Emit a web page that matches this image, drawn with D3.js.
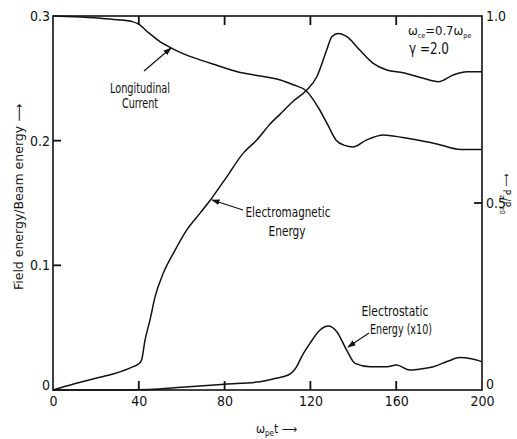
<!DOCTYPE html>
<html><head><meta charset="utf-8">
<script src="https://cdn.jsdelivr.net/npm/d3@7"></script>
<style>
body{margin:0;background:#fff;}
svg{display:block;}
text{fill:#111;}
.cond{font-family:"Liberation Sans Narrow","DejaVu Sans Condensed","Arial Narrow","Liberation Sans",sans-serif;}
</style>
</head><body>
<svg id="chart" width="517" height="439"></svg>
<script>
// ---- data ----
const xTicks = [0, 40, 80, 120, 160, 200];
const leftTicks = [0, 0.1, 0.2, 0.3];
const leftTickLabels = ["0", "0.1", "0.2", "0.3"];
const rightTicks = [0, 0.5, 1.0];
const rightTickLabels = ["0", "0.5", "1.0"];

// Longitudinal current (right axis, normalised)
const lcT = [0, 10, 22, 30, 37, 40, 44, 50, 55, 62, 70, 76, 86, 96, 106, 112, 118, 124, 128, 132, 136, 140, 146, 154, 163, 171, 179, 190, 200];
const lcV = [1.0, 0.998, 0.994, 0.99, 0.985, 0.978, 0.958, 0.931, 0.915, 0.896, 0.88, 0.869, 0.851, 0.84, 0.829, 0.816, 0.80, 0.752, 0.71, 0.668, 0.654, 0.65, 0.668, 0.682, 0.675, 0.667, 0.658, 0.643, 0.643];

// Electromagnetic energy (left axis)
const emT = [0, 10, 20, 28, 37.4, 40, 41.3, 42.9, 45.2, 47.6, 51.4, 56.1, 62.3, 68.5, 73.2, 81, 88.7, 95, 101, 106, 112, 118.3, 123, 127.6, 130, 133, 137, 143, 149.3, 155.6, 163.3, 172.6, 179.6, 186.6, 192.9, 200];
const emV = [0, 0.005, 0.0095, 0.0128, 0.0187, 0.021, 0.024, 0.040, 0.056, 0.0749, 0.0936, 0.1096, 0.1283, 0.1417, 0.152, 0.171, 0.19, 0.2005, 0.213, 0.2215, 0.2316, 0.2406, 0.2513, 0.2727, 0.2834, 0.286, 0.2834, 0.2727, 0.262, 0.2567, 0.2545, 0.25, 0.2473, 0.2527, 0.2553, 0.2553];

// Electrostatic energy x10 (left axis)
const esT = [0, 20, 45, 60, 80, 96.5, 104, 109.7, 113.6, 116, 119.8, 124.5, 128.3, 132.3, 136.9, 140.8, 147.8, 155, 160.2, 166.4, 172, 177.3, 184, 189.7, 195, 200];
const esV = [0, 0, 0.0005, 0.0022, 0.0047, 0.0067, 0.0095, 0.012, 0.0187, 0.027, 0.0374, 0.0481, 0.0513, 0.0468, 0.032, 0.0214, 0.0187, 0.0186, 0.02, 0.016, 0.017, 0.0187, 0.023, 0.026, 0.025, 0.0227];

// ---- layout ----
const svg = d3.select("#chart");
const L = 53, R = 482, T = 16, B = 390;
const x = d3.scaleLinear().domain([0, 200]).range([L, R]);
const yL = d3.scaleLinear().domain([0, 0.3]).range([B, T]);
const yR = d3.scaleLinear().domain([0, 1]).range([B, T]);

svg.append("defs").append("marker")
  .attr("id", "arr").attr("viewBox", "0 0 10 10").attr("refX", 9).attr("refY", 5)
  .attr("markerWidth", 7).attr("markerHeight", 7).attr("orient", "auto")
  .append("path").attr("d", "M0,1.5 L10,5 L0,8.5 Z").attr("fill", "#111");

// frame
svg.append("rect").attr("x", L).attr("y", T).attr("width", R - L).attr("height", B - T)
  .attr("fill", "none").attr("stroke", "#111").attr("stroke-width", 1.6);

// axis labels via d3 axes (tick marks drawn separately below)
const bx = svg.append("g").attr("transform", `translate(0,${B})`)
  .call(d3.axisBottom(x).tickValues(xTicks).tickSize(0).tickPadding(6));
const lx = svg.append("g").attr("transform", `translate(${L},0)`)
  .call(d3.axisLeft(yL).tickValues(leftTicks).tickSize(0).tickPadding(3)
    .tickFormat((d, i) => leftTickLabels[i]));
const rx = svg.append("g").attr("transform", `translate(${R},0)`)
  .call(d3.axisRight(yR).tickValues(rightTicks).tickSize(0).tickPadding(4)
    .tickFormat((d, i) => rightTickLabels[i]));
[bx, lx, rx].forEach(g => {
  g.select(".domain").remove();
  g.selectAll(".tick line").remove();
  g.selectAll(".tick text").attr("class", "cond").attr("font-size", 14).attr("fill", "#111");
});
lx.selectAll(".tick").filter(d => d === 0).select("text").attr("dy", "-0.05em");
rx.selectAll(".tick").filter(d => d === 0).select("text").attr("dy", "-0.1em");

// inward tick marks
const tl = 9;
const inner = xTicks.slice(1, -1);
const tk = svg.append("g");
function tick(x1, y1, x2, y2) {
  tk.append("line").attr("x1", x1).attr("y1", y1).attr("x2", x2).attr("y2", y2)
    .style("stroke", "#111").style("stroke-width", "1.8px");
}
inner.forEach(d => { tick(x(d), B, x(d), B - tl); tick(x(d), T, x(d), T + tl); });
leftTicks.slice(1, -1).forEach(d => tick(L, yL(d), L + tl - 1, yL(d)));
rightTicks.slice(1, -1).forEach(d => tick(R, yR(d), R - tl + 1, yR(d)));

// curves
const mk = (T_, V_, ys) => d3.line().x((d, i) => x(T_[i])).y((d, i) => ys(V_[i])).curve(d3.curveMonotoneX)(T_);
svg.append("path").attr("d", mk(lcT, lcV, yR)).attr("fill", "none").attr("stroke", "#111").attr("stroke-width", 1.5);
svg.append("path").attr("d", mk(emT, emV, yL)).attr("fill", "none").attr("stroke", "#111").attr("stroke-width", 1.5);
svg.append("path").attr("d", mk(esT, esV, yL)).attr("fill", "none").attr("stroke", "#111").attr("stroke-width", 1.5);

// annotations
function label(s, cx, y, w, size) {
  svg.append("text").attr("class", "cond").attr("x", cx).attr("y", y)
    .attr("text-anchor", "middle").attr("font-size", size)
    .attr("textLength", w).attr("lengthAdjust", "spacingAndGlyphs").text(s);
}
label("Longitudinal", 140, 93, 60, 14);
label("Current", 140, 108, 36, 14);
svg.append("line").attr("x1", 144).attr("y1", 71).attr("x2", 171).attr("y2", 48)
  .attr("stroke", "#111").attr("stroke-width", 1.2).attr("marker-end", "url(#arr)");

label("Electromagnetic", 288, 217, 85, 14);
label("Energy", 287, 236, 37, 14);
svg.append("line").attr("x1", 243).attr("y1", 210).attr("x2", 212).attr("y2", 200)
  .attr("stroke", "#111").attr("stroke-width", 1.2).attr("marker-end", "url(#arr)");

label("Electrostatic", 395, 316, 67, 14);
label("Energy (x10)", 401, 334, 62, 14);
svg.append("line").attr("x1", 369).attr("y1", 333).attr("x2", 348).attr("y2", 347)
  .attr("stroke", "#111").attr("stroke-width", 1.2).attr("marker-end", "url(#arr)");

// parameters
const p1 = svg.append("text").attr("class", "cond").attr("x", 408).attr("y", 35).attr("font-size", 13);
p1.append("tspan").text("ω");
p1.append("tspan").attr("font-size", 7).attr("dy", 3).text("ce");
p1.append("tspan").attr("dy", -3).text("=0.7ω");
p1.append("tspan").attr("font-size", 7).attr("dy", 3).text("pe");
svg.append("text").attr("class", "cond").attr("x", 409).attr("y", 54).attr("font-size", 15)
  .attr("textLength", 40).attr("lengthAdjust", "spacingAndGlyphs").text("γ =2.0");

// x-axis title
const xt = svg.append("text").attr("class", "cond").attr("x", 256).attr("y", 433).attr("font-size", 12);
xt.append("tspan").text("ω");
xt.append("tspan").attr("font-size", 8).attr("dy", 3).text("pe");
xt.append("tspan").attr("dy", -3).text("t ⟶");

// left y-axis title
svg.append("text").attr("transform", "translate(23,197) rotate(-90)").attr("text-anchor", "middle")
  .attr("font-family", "DejaVu Sans, sans-serif").attr("font-size", 12.5).text("Field energy/Beam energy ⟶");

// right y-axis title
const rt = svg.append("text").attr("transform", "translate(503,194) rotate(90)").attr("text-anchor", "middle")
  .attr("class", "cond").attr("font-size", 10);
rt.append("tspan").text("⟵ P");
rt.append("tspan").attr("font-size", 7).attr("dy", 3).text("z");
rt.append("tspan").attr("dy", -3).text("/P");
rt.append("tspan").attr("font-size", 7).attr("dy", 3).text("z0");
</script>
</body></html>
